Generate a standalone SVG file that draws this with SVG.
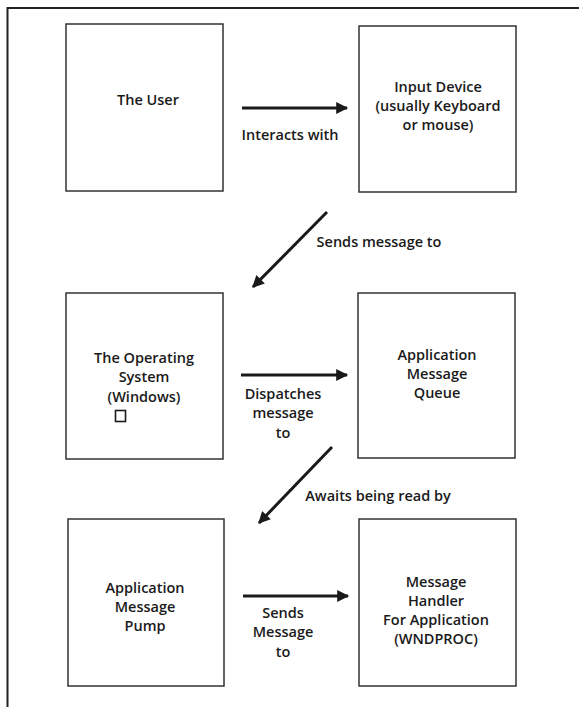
<svg xmlns="http://www.w3.org/2000/svg" width="579" height="707" viewBox="0 0 579 707">
  <style>
    .box { fill: #fff; stroke: #333; stroke-width: 1.5; }
    .frame { fill: none; stroke: #222; stroke-width: 2; }
    .conn { stroke: #1a1a1a; stroke-width: 3; fill: none; }
    text { font-family: "Open Sans", "Liberation Sans", sans-serif; font-size: 14.5px; font-weight: 600; fill: #1a1a1a; text-anchor: middle; }
  </style>
  <defs>
    <marker id="arrow" viewBox="0 0 10 10" refX="9" refY="5" markerWidth="6.5" markerHeight="4" markerUnits="strokeWidth" orient="auto">
      <path d="M0,0 L10,5 L0,10 Z" fill="#1a1a1a"/>
    </marker>
  </defs>
  <rect width="579" height="707" fill="#fff"/>
  <!-- page frame: top and left rules only -->
  <path class="frame" d="M579,8 H7.5 V707"/>

  <g id="node-user">
    <rect class="box" x="66" y="24" width="157" height="167"/>
    <text x="148" y="105">The User</text>
  </g>
  <g id="node-input">
    <rect class="box" x="359" y="26" width="157" height="166"/>
    <text x="438" y="92">Input Device</text>
    <text x="438" y="111">(usually Keyboard</text>
    <text x="438" y="130">or mouse)</text>
  </g>
  <g id="node-os">
    <rect class="box" x="66" y="293" width="157" height="166"/>
    <text x="144" y="363">The Operating</text>
    <text x="144" y="382">System</text>
    <text x="144" y="402">(Windows)</text>
    <rect x="115.5" y="410.5" width="10" height="11" fill="none" stroke="#1a1a1a" stroke-width="1.6"/>
  </g>
  <g id="node-queue">
    <rect class="box" x="358" y="293" width="157" height="165"/>
    <text x="437" y="360">Application</text>
    <text x="437" y="379">Message</text>
    <text x="437" y="398">Queue</text>
  </g>
  <g id="node-pump">
    <rect class="box" x="68" y="519" width="156" height="167"/>
    <text x="145" y="593">Application</text>
    <text x="145" y="612">Message</text>
    <text x="145" y="631">Pump</text>
  </g>
  <g id="node-handler">
    <rect class="box" x="359" y="519" width="157" height="167"/>
    <text x="436" y="587">Message</text>
    <text x="436" y="606">Handler</text>
    <text x="436" y="625">For Application</text>
    <text x="436" y="644">(WNDPROC)</text>
  </g>

  <g id="connectors">
    <line class="conn" x1="242" y1="108" x2="347" y2="108" marker-end="url(#arrow)"/>
    <text x="290" y="140">Interacts with</text>

    <line class="conn" x1="327" y1="212" x2="253" y2="287" marker-end="url(#arrow)"/>
    <text x="379" y="247">Sends message to</text>

    <line class="conn" x1="241" y1="375" x2="347" y2="375" marker-end="url(#arrow)"/>
    <text x="283" y="399">Dispatches</text>
    <text x="283" y="418">message</text>
    <text x="283" y="438">to</text>

    <line class="conn" x1="332" y1="447" x2="259" y2="523" marker-end="url(#arrow)"/>
    <text x="378" y="501">Awaits being read by</text>

    <line class="conn" x1="243" y1="596" x2="348" y2="596" marker-end="url(#arrow)"/>
    <text x="283" y="618">Sends</text>
    <text x="283" y="637">Message</text>
    <text x="283" y="657">to</text>
  </g>
</svg>
